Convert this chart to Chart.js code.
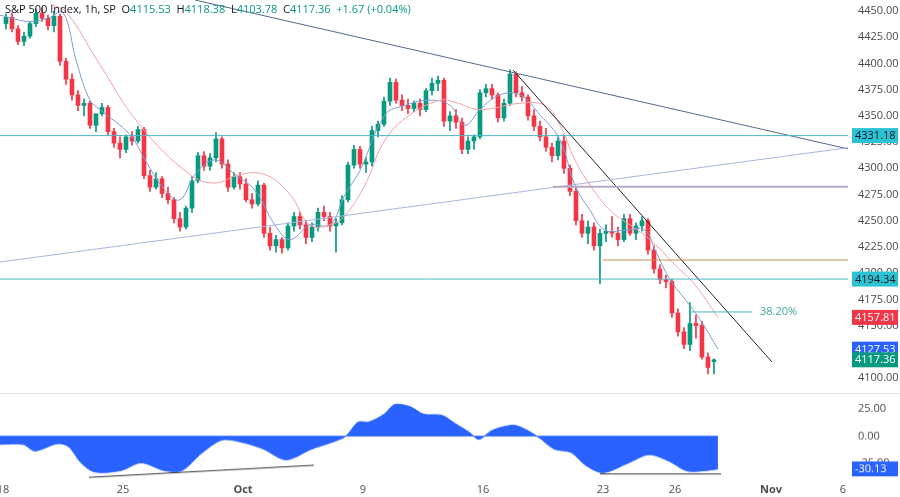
<!DOCTYPE html>
<html>
<head>
<meta charset="utf-8">
<script src="https://cdn.jsdelivr.net/npm/chart.js@4.4.0/dist/chart.umd.min.js"></script>
<style>
  html, body { margin: 0; padding: 0; background: #fff; }
  #wrap { width: 900px; height: 497px; position: relative; }
  #price { position: absolute; left: 0; top: 0; }
  #osc { position: absolute; left: 0; top: 393px; border-top: 1px solid #e0e3eb; }
</style>
</head>
<body>
<div id="wrap">
  <canvas id="price" width="900" height="393"></canvas>
  <canvas id="osc" width="900" height="104"></canvas>
</div>
<script>
// x values are trading days counted from Sep 18 (4 candles per day)
const candles = [
  [4438,4447,4433,4444],[4444,4448,4430,4433],[4433,4436,4418,4421],[4421,4430,4417,4426],
  [4426,4440,4424,4438],[4438,4452,4435,4448],[4448,4453,4440,4443],[4443,4446,4432,4436],
  [4436,4450,4430,4445],[4445,4447,4398,4402],[4402,4405,4380,4385],[4385,4390,4365,4370],
  [4370,4374,4355,4360],[4360,4366,4350,4362],[4362,4364,4338,4341],[4341,4350,4335,4352],
  [4352,4362,4350,4358],[4358,4360,4332,4335],[4335,4338,4320,4324],[4324,4330,4310,4318],
  [4318,4332,4315,4330],[4330,4335,4322,4326],[4326,4340,4324,4337],[4337,4339,4290,4293],
  [4293,4298,4278,4282],[4282,4296,4280,4290],[4290,4292,4272,4276],[4276,4282,4266,4270],
  [4270,4272,4248,4252],[4252,4258,4240,4244],[4244,4264,4242,4262],[4262,4292,4258,4288],
  [4288,4315,4286,4312],[4312,4316,4298,4302],[4302,4314,4298,4310],[4310,4334,4306,4328],
  [4328,4330,4300,4304],[4304,4308,4278,4282],[4282,4296,4280,4292],[4292,4296,4280,4285],
  [4285,4290,4268,4270],[4270,4276,4262,4266],[4266,4288,4264,4284],[4284,4286,4234,4238],
  [4238,4244,4222,4226],[4226,4236,4220,4232],[4232,4234,4219,4224],[4224,4248,4222,4245],
  [4245,4258,4240,4254],[4254,4258,4242,4246],[4246,4250,4228,4234],[4234,4248,4230,4244],
  [4244,4262,4240,4258],[4258,4264,4250,4254],[4254,4258,4240,4245],[4245,4252,4220,4248],
  [4248,4274,4246,4270],[4270,4306,4268,4303],[4303,4322,4300,4318],[4318,4321,4300,4304],
  [4304,4310,4296,4306],[4306,4340,4302,4336],[4336,4345,4330,4342],[4342,4368,4340,4364],
  [4364,4386,4360,4382],[4382,4385,4362,4365],[4365,4370,4355,4360],[4360,4366,4352,4357],
  [4357,4364,4354,4362],[4362,4366,4350,4356],[4356,4376,4354,4374],[4374,4386,4370,4381],
  [4381,4388,4374,4384],[4384,4386,4340,4345],[4345,4354,4336,4350],[4350,4356,4338,4344],
  [4344,4348,4314,4318],[4318,4330,4314,4326],[4326,4332,4318,4330],[4330,4375,4328,4372],
  [4372,4380,4368,4376],[4376,4380,4366,4370],[4370,4372,4344,4348],[4348,4366,4345,4362],
  [4362,4394,4360,4390],[4390,4392,4368,4372],[4372,4378,4364,4368],[4368,4370,4346,4350],
  [4350,4356,4336,4340],[4340,4345,4326,4330],[4330,4338,4316,4320],[4320,4324,4306,4312],
  [4312,4330,4308,4326],[4326,4332,4295,4300],[4300,4303,4274,4278],[4278,4282,4246,4250],
  [4250,4256,4234,4238],[4238,4250,4228,4244],[4244,4248,4222,4226],[4226,4242,4190,4238],
  [4238,4246,4230,4240],[4240,4254,4234,4238],[4238,4244,4226,4232],[4232,4256,4230,4252],
  [4252,4256,4236,4238],[4238,4248,4232,4245],[4245,4254,4240,4250],[4250,4252,4218,4222],
  [4222,4226,4200,4204],[4204,4208,4190,4194],[4194,4198,4186,4192],[4192,4194,4158,4162],
  [4162,4166,4140,4144],[4144,4148,4128,4132],[4132,4172,4126,4152],[4152,4160,4138,4150],
  [4150,4154,4118,4120],[4120,4124,4104,4110],[4115.53,4118.38,4103.78,4117.36]
]

const fastDays = [-0.125,1.125,1.96,2.5,3.08,3.625,4.04,5.29,5.92,6.75,7.375,8.0,8.83,9.67,10.5,11.33,11.96,12.79,13.625,14.25,14.875,15.92,16.75,17.79,18.625,19.25,19.875,20.71,21.54,22.375,23.21,23.83,24.46,25.08,25.92,26.75,27.17,27.79,28.42,29.04,29.79]
const fastValues = [4446,4440,4444,4449,4400,4365,4356,4332,4308,4279,4270,4294,4308,4294,4279,4246,4232,4246,4246,4275,4298,4351,4360,4365,4360,4341,4356,4370,4370,4351,4327,4284,4260,4241,4241,4241,4222,4194,4175,4156,4127.53]

const slowDays = [1.96,2.67,3.92,5.71,7.79,8.83,9.875,10.92,11.96,12.79,13.625,14.25,15.08,15.92,16.96,18.21,18.83,19.875,21.54,22.58,23.21,23.83,24.46,25.29,26.125,26.96,28.0,28.83,29.79]
const slowValues = [4457,4448,4403,4341,4294,4286,4294,4294,4275,4246,4246,4255,4284,4327,4351,4365,4363,4356,4362,4360,4341,4308,4284,4260,4246,4232,4208,4189,4157.81]

const oscDays = [-0.125,0.83,1.33,2.29,2.75,3.25,3.83,4.92,5.75,6.71,7.46,8.29,9.125,9.96,10.83,11.79,12.875,13.71,14.29,14.79,15.25,15.875,16.33,16.96,17.54,18.29,18.875,19.46,19.83,20.33,20.79,21.375,22.25,22.96,23.67,24.29,25.0,26.08,26.92,27.75,28.5,29.33,29.79]
const oscValues = [-7.6,-7.6,-13.6,-6.9,-10,-24.5,-33,-31.6,-24.5,-31.6,-31.6,-15.5,-3.6,-5.7,-11.7,-21.8,-11.8,-5.7,0,12.7,13,20,29,27,20,19,11,3,-3,4.6,8.2,9.7,0,-11.8,-15,-27,-33.6,-24.5,-17,-23,-32,-31.6,-30.13]

const tickDays = [0, 5, 10, 15, 20, 25, 28, 32, 35]
const tickLabels = ["18", "25", "Oct", "9", "16", "23", "26", "Nov", "6"]
const priceTicks = [4100, 4125, 4150, 4175, 4200, 4225, 4250, 4275, 4300, 4325, 4350, 4375, 4400, 4425, 4450]
const oscTicks = [25, 0, -25]

const levels = { upper: 4331.18, lower: 4194.34, purple: 4282.5, orange: 4212.5, fib: 4163 }

const GREEN = "#089981"
const RED = "#f23645"
const TEXT = "#4a4a4a"
const FONT = "'Open Sans', 'Noto Sans', sans-serif"

const candleX = (i) => Math.floor(i / 4) + ((i % 4) + 0.5) / 4
const isUp = (i) => candles[i][3] >= candles[i][0]
const seg = (x1, y1, x2, y2) => [{ x: x1, y: y1 }, { x: x2, y: y2 }]
const lineSet = (data, color, width, extra) => Object.assign({
  type: "line", data, borderColor: color, borderWidth: width,
  pointRadius: 0, fill: false, tension: 0
}, extra || {})

function box(ctx, y, text, bg, fg) {
  ctx.fillStyle = bg
  ctx.fillRect(852, y - 7.5, 46, 15)
  ctx.fillStyle = fg
  ctx.font = "11px " + FONT
  ctx.textAlign = "left"
  ctx.textBaseline = "middle"
  ctx.fillText(text, 855, y + 0.5)
}

function axisLabels(ctx, scale, ticks) {
  ctx.font = "11px " + FONT
  ctx.fillStyle = TEXT
  ctx.textAlign = "left"
  ctx.textBaseline = "middle"
  ticks.forEach((v) => ctx.fillText(v.toFixed(2), 858, scale.getPixelForValue(v)))
}

const priceOverlay = {
  id: "priceOverlay",
  afterDraw(chart) {
    const { ctx, scales } = chart
    const y = scales.y
    const x = scales.x
    ctx.save()
    axisLabels(ctx, y, priceTicks)
    // header
    ctx.font = "11px " + FONT
    ctx.textBaseline = "middle"
    ctx.textAlign = "left"
    let cx = 5
    const parts = [
      ["S&P 500 Index, 1h, SP  ", "#131722"],
      ["O", "#131722"], ["4115.53  ", GREEN],
      ["H", "#131722"], ["4118.38  ", GREEN],
      ["L", "#131722"], ["4103.78  ", GREEN],
      ["C", "#131722"], ["4117.36  ", GREEN],
      ["+1.67 (+0.04%)", GREEN]
    ]
    parts.forEach(([t, c]) => {
      ctx.fillStyle = c
      ctx.fillText(t, cx, 10)
      cx += ctx.measureText(t).width
    })
    ctx.fillStyle = "#3fa7a0"
    ctx.fillText("38.20%", x.getPixelForValue(31.54), y.getPixelForValue(levels.fib))
    box(ctx, y.getPixelForValue(levels.upper), "4331.18", "#2bc3d4", "#131722")
    box(ctx, y.getPixelForValue(levels.lower), "4194.34", "#2bc3d4", "#131722")
    box(ctx, y.getPixelForValue(slowValues[slowValues.length - 1]), "4157.81", RED, "#fff")
    box(ctx, y.getPixelForValue(fastValues[fastValues.length - 1]), "4127.53", "#2962ff", "#fff")
    box(ctx, y.getPixelForValue(candles[candles.length - 1][3]), "4117.36", GREEN, "#fff")
    ctx.restore()
  }
}

const xRange = { type: "linear", min: -0.125, max: 35.21, display: false }

new Chart(document.getElementById("price"), {
  type: "bar",
  data: {
    datasets: [
      lineSet(seg(-0.125, levels.upper, 36, levels.upper), "#4cb8c4", 1),
      lineSet(seg(-0.125, levels.lower, 36, levels.lower), "#4cb8c4", 1),
      lineSet(seg(22.92, levels.purple, 36, levels.purple), "#b7a9c6", 2),
      lineSet(seg(25.0, levels.orange, 36, levels.orange), "#c98a52", 1),
      lineSet(seg(28.625, levels.fib, 31.21, levels.fib), "#4cb8c4", 1),
      lineSet(seg(-0.125, 4210.6, 35.42, 4320.3), "#a9b6dd", 1),
      lineSet(seg(8.0, 4460.5, 35.42, 4317.4), "#52698a", 1),
      lineSet(seg(21.25, 4393.7, 32.04, 4115.3), "#222", 1),
      lineSet(slowDays.map((d, i) => ({ x: d, y: slowValues[i] })), "#f2a0a4", 1, { tension: 0.4 }),
      lineSet(fastDays.map((d, i) => ({ x: d, y: fastValues[i] })), "#7d9bd6", 1, { tension: 0.4 }),
      {
        data: candles.map((c, i) => ({ x: candleX(i), y: [c[2], c[1]] })),
        backgroundColor: (ctx) => isUp(ctx.dataIndex) ? GREEN : RED,
        barThickness: 1, grouped: false, order: 2
      },
      {
        data: candles.map((c, i) => ({ x: candleX(i), y: [c[0], c[3]] })),
        backgroundColor: (ctx) => isUp(ctx.dataIndex) ? GREEN : RED,
        barThickness: 4, grouped: false, order: 1, minBarLength: 1
      }
    ]
  },
  options: {
    responsive: false,
    animation: false,
    layout: { padding: { left: 0, top: 0, bottom: 0, right: 52 } },
    plugins: { legend: { display: false }, tooltip: { enabled: false } },
    scales: {
      x: Object.assign({ offset: false }, xRange),
      y: { display: false, min: 4085.7, max: 4460.5 }
    }
  },
  plugins: [priceOverlay]
})

const oscOverlay = {
  id: "oscOverlay",
  afterDraw(chart) {
    const { ctx, scales } = chart
    ctx.save()
    axisLabels(ctx, scales.y, oscTicks)
    ctx.textAlign = "center"
    tickDays.forEach((d, i) => {
      ctx.font = ((i === 2 || i === 7) ? "bold " : "") + "11px " + FONT
      ctx.fillText(tickLabels[i], scales.x.getPixelForValue(d), 97)
    })
    box(ctx, scales.y.getPixelForValue(-30.13), "-30.13", "#2962ff", "#fff")
    ctx.restore()
  }
}

new Chart(document.getElementById("osc"), {
  type: "line",
  data: {
    datasets: [
      lineSet(oscDays.map((d, i) => ({ x: d, y: oscValues[i] })), "#2962ff", 1,
        { fill: "origin", backgroundColor: "#2962ff", tension: 0.3 }),
      lineSet(seg(-0.125, 0, 29.79, 0), "#6f95ff", 1),
      lineSet(seg(3.58, -37.9, 12.96, -26.8), "#333", 1),
      lineSet(seg(24.875, -34.8, 29.92, -34.8), "#333", 1)
    ]
  },
  options: {
    responsive: false,
    animation: false,
    layout: { padding: { left: 0, top: 0, bottom: 17, right: 52 } },
    plugins: { legend: { display: false }, tooltip: { enabled: false } },
    scales: {
      x: xRange,
      y: { display: false, min: -40.5, max: 38.6 }
    }
  },
  plugins: [oscOverlay]
})
</script>
</body>
</html>
